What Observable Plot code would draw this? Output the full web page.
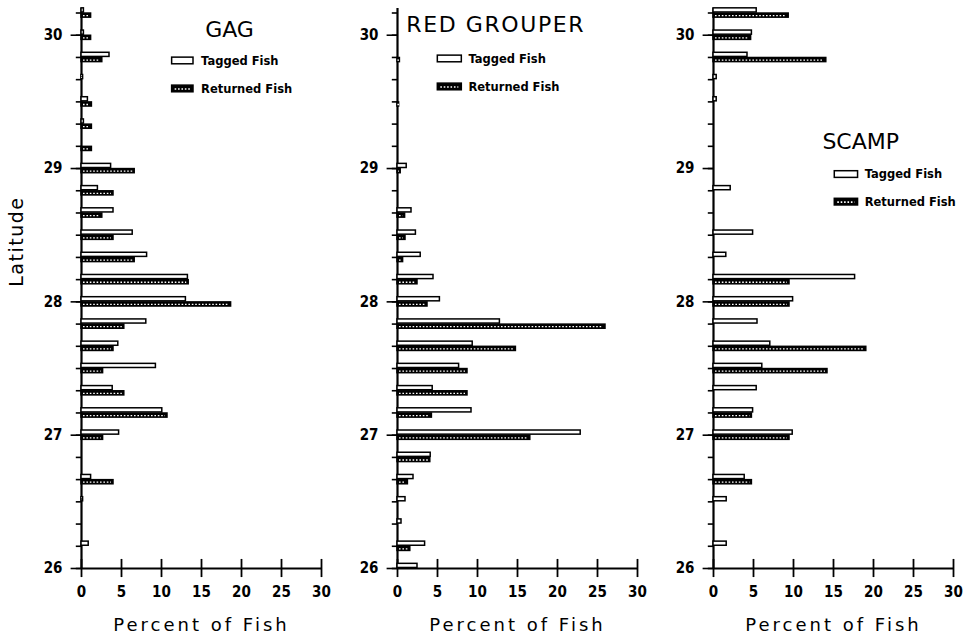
<!DOCTYPE html>
<html>
<head>
<meta charset="utf-8">
<script src="https://cdn.jsdelivr.net/npm/d3@7"></script>
<script src="https://cdn.jsdelivr.net/npm/@observablehq/plot@0.6"></script>
<style>
  html, body { margin: 0; padding: 0; background: #fff; }
  #chart { width: 976px; height: 639px; }
</style>
</head>
<body>
<div id="chart"></div>
<script>
// ---- data (percent of fish per 10-minute latitude bin) ----
const species = ["GAG", "RED GROUPER", "SCAMP"];
const latitudes = [30.1667, 30.0, 29.8333, 29.6667, 29.5, 29.3333, 29.1667, 29.0,
  28.8333, 28.6667, 28.5, 28.3333, 28.1667, 28.0, 27.8333, 27.6667, 27.5, 27.3333,
  27.1667, 27.0, 26.8333, 26.6667, 26.5, 26.3333, 26.1667, 26.0];

const gagTagged      = [0.3, 0.3, 3.5, 0.2, 0.8, 0.3, 0, 3.7, 2.05, 4.0, 6.4, 8.2, 13.3, 13.05, 8.1, 4.6, 9.3, 3.9, 10.1, 4.7, 0, 1.2, 0.2, 0, 0.9, 0];
const gagReturned    = [1.2, 1.2, 2.6, 0, 1.3, 1.3, 1.3, 6.65, 4.0, 2.6, 4.0, 6.65, 13.4, 18.7, 5.35, 4.0, 2.7, 5.35, 10.75, 2.7, 0, 4.0, 0, 0, 0, 0];
const redTagged      = [0, 0, 0, 0, 0, 0, 0, 1.15, 0, 1.75, 2.3, 2.9, 4.5, 5.3, 12.8, 9.4, 7.7, 4.4, 9.25, 22.9, 4.15, 2.0, 1.0, 0.5, 3.45, 2.5];
const redReturned    = [0, 0, 0.3, 0, 0.2, 0, 0, 0.4, 0, 0.95, 1.0, 0.7, 2.5, 3.75, 26.0, 14.8, 8.75, 8.75, 4.3, 16.6, 4.1, 1.3, 0, 0, 1.6, 0];
const scampTagged    = [5.4, 4.8, 4.25, 0.4, 0.4, 0, 0, 0, 2.15, 0, 4.95, 1.6, 17.7, 9.95, 5.5, 7.1, 6.1, 5.4, 4.95, 9.9, 0, 3.9, 1.65, 0, 1.65, 0];
const scampReturned  = [9.4, 4.7, 14.1, 0, 0, 0, 0, 0, 0, 0, 0, 0, 9.5, 9.5, 0, 19.1, 14.25, 0, 4.8, 9.5, 0, 4.8, 0, 0, 0, 0];

const latTicks = [30, 29, 28, 27, 26];
const xTicks = [0, 5, 10, 15, 20, 25, 30];
const seriesNames = ["Tagged Fish", "Returned Fish"];

// ---- table built from the arrays ----
const taggedBy = [gagTagged, redTagged, scampTagged];
const returnedBy = [gagReturned, redReturned, scampReturned];
const rows = [];
species.forEach((s, si) => latitudes.forEach((lat, i) => {
  rows.push({species: s, lat, tagged: taggedBy[si][i], returned: returnedBy[si][i]});
}));
const tagRows = rows.filter(d => d.tagged > 0);
const retRows = rows.filter(d => d.returned > 0);

// bar thickness (in degrees) and gap about the tick
const H = 0.031, G = 0.004;

// annotation layout per panel (x in percent, y in latitude)
const layout = {
  "GAG":         {tx: 18.5, ty: 30.04, anchor: "middle", sx1: 11.33, sx2: 14.0,  lx: 14.95, y1: 29.807, y2: 29.597},
  "RED GROUPER": {tx: 1.1,  ty: 30.08, anchor: "start",  sx1: 5.04,  sx2: 8.04,  lx: 8.86,  y1: 29.822, y2: 29.612},
  "SCAMP":       {tx: 18.4, ty: 29.20, anchor: "middle", sx1: 15.16, sx2: 18.07, lx: 18.9,  y1: 28.955, y2: 28.748}
};
const legendRows = species.flatMap(s => seriesNames.map((n, k) => ({species: s, name: n, k})));
const sh = 0.025; // swatch half-height in degrees
const FONT = "'DejaVu Sans', sans-serif";
const COND = "'DejaVu Sans Condensed', 'DejaVu Sans', sans-serif";

const plot = Plot.plot({
  width: 976,
  height: 639,
  marginLeft: 81,
  marginRight: 22,
  marginTop: 12.5,
  marginBottom: 71,
  style: {fontFamily: FONT, background: "white", color: "black", overflow: "visible"},
  fx: {domain: species, paddingInner: 0.24, paddingOuter: 0, axis: null, label: null},
  x: {domain: [0, 30], axis: null},
  y: {domain: [26, 30.1667], axis: null},
  marks: [
    // axes lines
    Plot.ruleX([0], {y1: 26, y2: 30.2, stroke: "black", strokeWidth: 2.2}),
    Plot.ruleY([26], {x1: 0, x2: 30, stroke: "black", strokeWidth: 2}),
    // minor latitude ticks (every 10 minutes)
    Plot.ruleY(latitudes, {y: d => d, x1: -0.65, x2: 0, stroke: "black", strokeWidth: 1.6}),
    // major latitude ticks + labels
    Plot.ruleY(latTicks, {y: d => d, x1: -1.3, x2: 0, stroke: "black", strokeWidth: 1.6}),
    Plot.text(latTicks, {x: 0, y: d => d, text: d => String(d), dx: -19, textAnchor: "end",
      fontSize: 15, fontWeight: "bold", fontFamily: COND}),
    // x ticks crossing the axis + labels
    Plot.ruleX(xTicks, {x: d => d, y1: 25.932, y2: 26.068, stroke: "black", strokeWidth: 1.8}),
    Plot.text(xTicks, {x: d => d, y: 26, text: d => String(d), dy: 24,
      fontSize: 15, fontWeight: "bold", fontFamily: COND}),
    // x axis title in each panel
    Plot.text(species, {fx: d => d, x: 15, y: 26, text: () => "Percent of Fish", dy: 57,
      fontSize: 18, fontFamily: FONT}),
    // y axis title (first panel only)
    Plot.text(["Latitude"], {fx: () => "GAG", frameAnchor: "left", text: d => d, dx: -65, dy: -4,
      rotate: -90, fontSize: 19, fontFamily: FONT}),

    // tagged bars (open)
    Plot.rect(tagRows, {fx: "species", x1: 0, x2: "tagged",
      y1: d => d.lat + G, y2: d => d.lat + G + H,
      fill: "white", stroke: "black", strokeWidth: 1.5}),
    // returned bars (dark, dotted)
    Plot.rect(retRows, {fx: "species", x1: 0, x2: "returned",
      y1: d => d.lat - G - H, y2: d => d.lat - G,
      fill: "black", stroke: "black", strokeWidth: 1.5}),
    Plot.ruleY(retRows, {fx: "species", y: d => d.lat - G - H / 2, x1: 0, x2: "returned",
      stroke: "white", strokeWidth: 1.3, strokeDasharray: "1.6,1.8", insetLeft: 2, insetRight: 2}),

    // panel titles
    Plot.text(species.filter(s => layout[s].anchor === "middle"), {fx: d => d,
      x: d => layout[d].tx, y: d => layout[d].ty, text: d => d,
      textAnchor: "middle", fontSize: 22, fontFamily: FONT}),
    Plot.text(species.filter(s => layout[s].anchor === "start"), {fx: d => d,
      x: d => layout[d].tx, y: d => layout[d].ty, text: d => d,
      textAnchor: "start", fontSize: 22, fontFamily: FONT}),
    // legend swatches
    Plot.rect(legendRows, {fx: "species", x1: d => layout[d.species].sx1, x2: d => layout[d.species].sx2,
      y1: d => (d.k ? layout[d.species].y2 : layout[d.species].y1) - sh,
      y2: d => (d.k ? layout[d.species].y2 : layout[d.species].y1) + sh,
      fill: d => d.k ? "black" : "white", stroke: "black", strokeWidth: 1.5}),
    Plot.ruleY(legendRows.filter(d => d.k), {fx: "species", y: d => layout[d.species].y2,
      x1: d => layout[d.species].sx1, x2: d => layout[d.species].sx2,
      stroke: "white", strokeWidth: 1.6, strokeDasharray: "1.6,1.8", insetLeft: 3, insetRight: 3}),
    Plot.text(legendRows, {fx: "species", x: d => layout[d.species].lx,
      y: d => d.k ? layout[d.species].y2 : layout[d.species].y1,
      text: "name", textAnchor: "start", fontSize: 11.5, fontWeight: "bold", fontFamily: FONT})
  ]
});

const svg = plot.tagName.toLowerCase() === "svg" ? plot : plot.querySelector("svg");
d3.select(svg).selectAll("text").each(function() {
  const t = this.textContent;
  if (t === "Percent of Fish") this.setAttribute("letter-spacing", "3");
  if (t === "Latitude") this.setAttribute("letter-spacing", "1.5");
  if (t === "RED GROUPER") this.setAttribute("letter-spacing", "1.6");
});
document.getElementById("chart").appendChild(plot);
</script>
</body>
</html>
